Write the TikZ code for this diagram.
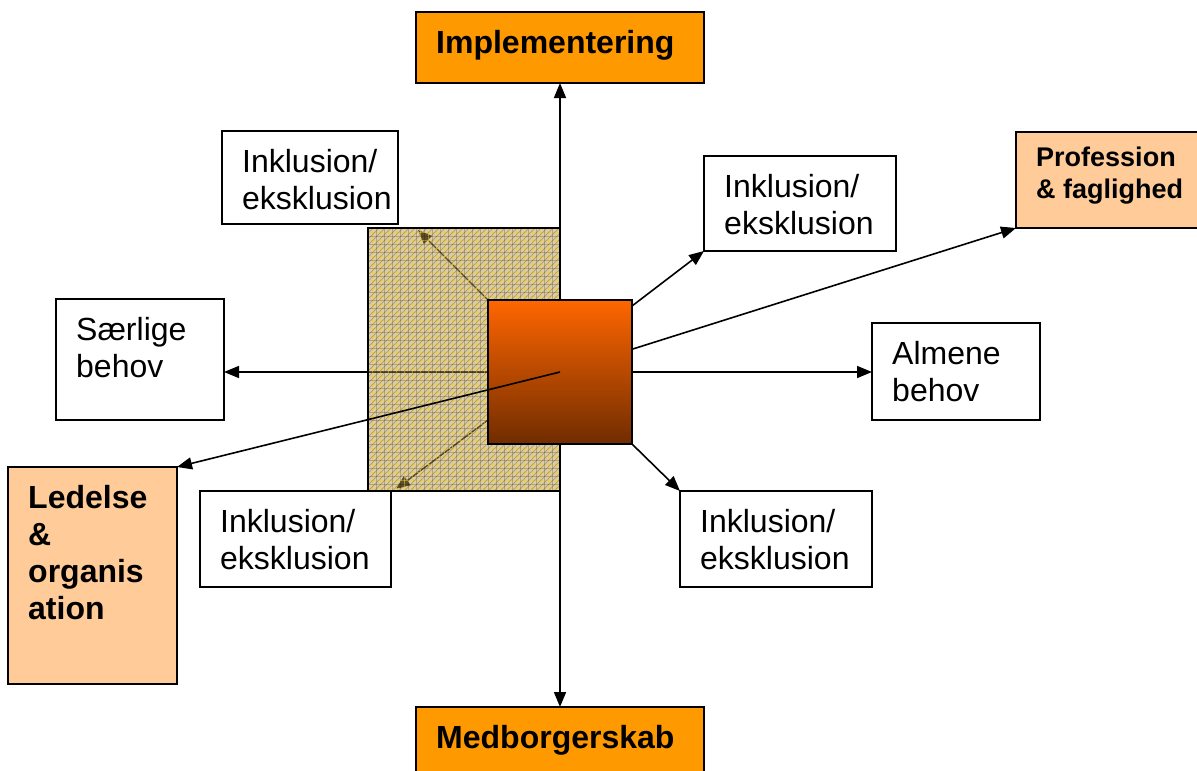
\documentclass[tikz,border=0pt]{standalone}
\usepackage{fontspec}
\setmainfont{Liberation Sans}
\usetikzlibrary{arrows.meta, calc}
\definecolor{hdorange}{HTML}{FF9900}
\definecolor{peach}{HTML}{FFCC99}
\definecolor{coretop}{HTML}{FF6600}
\definecolor{corebot}{HTML}{702C00}
\definecolor{zonefill}{HTML}{B89C50}
\definecolor{zonegrid}{HTML}{F5D020}
\definecolor{zonediag}{HTML}{6A5030}
\pgfdeclarelayer{links}
\pgfdeclarelayer{shade}
\pgfsetlayers{links,shade,main}
\tikzset{
    box/.style={draw=black, line width=1.6pt, anchor=north west, inner sep=0pt, outer sep=0pt},
    txt/.style={anchor=base west, inner sep=0pt, align=left, font=\fontsize{32}{37}\selectfont},
    boldtxt/.style={txt, font=\fontsize{32}{37}\selectfont\bfseries},
    smallbold/.style={txt, font=\fontsize{27}{32}\selectfont\bfseries},
    link/.style={line width=1.6pt, -{Triangle[length=15pt, width=12pt]}},
    thinlink/.style={line width=1.4pt, -{Triangle[length=14pt, width=11pt]}},
}

\begin{document}
\begin{tikzpicture}[
    x=1pt, y=-1pt,
    gridline/.style={zonegrid, line width=0.8pt, opacity=0.55},
    darkgrid/.style={black, line width=0.5pt, opacity=0.2},
    diagline/.style={zonediag, line width=0.7pt, opacity=0.4}
]
\useasboundingbox (0,0) rectangle (1197,771);

% Headers top and bottom (text anchored on the baseline of the last line)
\node[box, fill=hdorange, minimum width=288pt, minimum height=71pt] (impl) at (416,12) {};
\node[boldtxt] (implTxt) at ($(impl.north west)+(20,41)$) {Implementering};
\node[box, fill=hdorange, minimum width=288pt, minimum height=80pt] (medb) at (416,707) {};
\node[boldtxt] (medbTxt) at ($(medb.north west)+(20,41)$) {Medborgerskab};

% Side headers
\node[box, fill=peach, minimum width=200pt, minimum height=96pt] (prof) at (1016,132) {};
\node[smallbold] (profTxt) at ($(prof.north west)+(20,66)$) {Profession\\\& faglighed};
\node[box, fill=peach, minimum width=169pt, minimum height=217pt] (ledelse) at (8,467) {};
\node[boldtxt] (ledelseTxt) at ($(ledelse.north west)+(20,152)$) {Ledelse\\\&\\organis\\ation};

% White boxes
\node[box, fill=white, minimum width=176pt, minimum height=93pt] (inkTL) at (222,131) {};
\node[txt] (inkTLTxt) at ($(inkTL.north west)+(20,78)$) {Inklusion/\\eksklusion};
\node[box, fill=white, minimum width=192pt, minimum height=95pt] (inkTR) at (704,156) {};
\node[txt] (inkTRTxt) at ($(inkTR.north west)+(20,78)$) {Inklusion/\\eksklusion};
\node[box, fill=white, minimum width=168pt, minimum height=121pt] (saer) at (56,299) {};
\node[txt] (saerTxt) at ($(saer.north west)+(20,78)$) {Særlige\\behov};
\node[box, fill=white, minimum width=168pt, minimum height=97pt] (almene) at (872,323) {};
\node[txt] (almeneTxt) at ($(almene.north west)+(20,78)$) {Almene\\behov};
\node[box, fill=white, minimum width=191pt, minimum height=96pt] (inkBL) at (200,491) {};
\node[txt] (inkBLTxt) at ($(inkBL.north west)+(20,78)$) {Inklusion/\\eksklusion};
\node[box, fill=white, minimum width=192pt, minimum height=96pt] (inkBR) at (680,491) {};
\node[txt] (inkBRTxt) at ($(inkBR.north west)+(20,78)$) {Inklusion/\\eksklusion};

% Centre square
\node[box, anchor=center, minimum size=144pt, top color=coretop, bottom color=corebot] (core) at (560,372) {};

% Arrows below the shaded zone
\coordinate (tlTip) at (418,230);
\coordinate (blTip) at (396,489);
\begin{pgfonlayer}{links}
\draw[link] (core.center) -- (impl.south);
\draw[link] (core.center) -- (medb.north);
\draw[link] (core.center) -- (saer.east |- core.center);
\draw[link] (core.center) -- (almene.west |- core.center);
\draw[link] (core.center) -- (prof.south west);
\draw[link] ($(core.north east)+(0,6)$) -- (inkTR.south west);
\draw[link] (core.south east) -- (inkBR.north west);
\draw[thinlink] (core.north west) -- (tlTip);
\draw[thinlink] ($(core.south west)+(0,-24)$) -- (blTip);
\end{pgfonlayer}

% Shaded zone behind the square
\begin{pgfonlayer}{shade}
\node[box, fill=zonefill, fill opacity=0.5, minimum width=192pt, minimum height=263pt] (zone) at (368,228) {};
\begin{scope}
\clip (zone.north west) rectangle (zone.south east);
\foreach \x in {372,380,...,560} \draw[gridline] (\x,228) -- (\x,491);
\foreach \y in {232,240,...,491} \draw[gridline] (368,\y) -- (560,\y);
\foreach \x in {376,384,...,560} \draw[darkgrid] (\x,228) -- (\x,491);
\foreach \y in {236,244,...,491} \draw[darkgrid] (368,\y) -- (560,\y);
\foreach \d in {-270,-264,...,200} \draw[diagline] (368+\d,491) -- ++(263,-263);
\end{scope}
\draw[line width=1.2pt] (zone.north west) rectangle (zone.south east);
\end{pgfonlayer}

% Arrow over the square
\draw[link] (core.center) -- (ledelse.north east);

\end{tikzpicture}
\end{document}
